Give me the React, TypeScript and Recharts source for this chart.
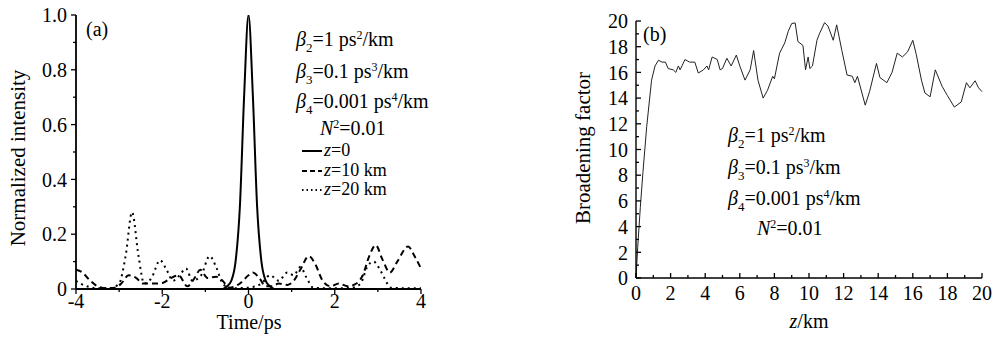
import { LineChart, Line, XAxis, YAxis } from "recharts";

// (a) normalized intensity vs time, three propagation distances
const timeZ0 = [-4, -0.6, -0.5, -0.4, -0.3, -0.2, -0.1, 0, 0.1, 0.2, 0.3, 0.4, 0.5, 0.6, 4];
const intZ0 = [0, 0, 0.01, 0.03, 0.1, 0.3, 0.71, 1, 0.71, 0.3, 0.1, 0.03, 0.01, 0, 0];

const timeZ10 = [
  -4, -3.85, -3.7, -3.5, -3.3, -3.1, -2.95, -2.78, -2.6, -2.45, -2.2, -2.0, -1.8, -1.62, -1.42,
  -1.25, -1.12, -0.95, -0.75, -0.6, -0.45, -0.2, 0, 0.1, 0.25, 0.4, 0.55, 0.7, 0.9, 1.05, 1.2,
  1.4, 1.55, 1.72, 1.9, 2.1, 2.3, 2.5, 2.65, 2.8, 2.95, 3.1, 3.28, 3.45, 3.7, 3.85, 4,
];
const intZ10 = [
  0.07, 0.06, 0.035, 0.01, 0.003, 0.005, 0.02, 0.05, 0.04, 0.02, 0.02, 0.022, 0.04, 0.05, 0.01,
  0.04, 0.07, 0.04, 0.045, 0.03, 0.005, 0.02, 0.05, 0.06, 0.04, 0.01, 0.01, 0.02, 0.015, 0.03, 0.07,
  0.12, 0.09, 0.03, 0.01, 0.02, 0.01, 0.02, 0.05, 0.12, 0.16, 0.11, 0.06, 0.1, 0.155, 0.12, 0.075,
];

const timeZ20 = [
  -4, -3.9, -3.75, -3.5, -3.2, -3.0, -2.85, -2.7, -2.55, -2.42, -2.25, -2.05, -1.9, -1.75, -1.6,
  -1.45, -1.3, -1.1, -0.9, -0.75, -0.6, -0.45, -0.3, 0, 0.3, 0.5, 0.7, 0.9, 1.05, 1.2, 1.35, 1.5,
  1.8, 2.1, 2.4, 2.6, 2.75, 2.9, 3.05, 3.15, 3.3, 3.6, 4,
];
const intZ20 = [
  0.03, 0.02, 0.01, 0.003, 0.003, 0.02, 0.12, 0.28, 0.12, 0.02, 0.04, 0.105, 0.07, 0.03, 0.05,
  0.075, 0.03, 0.05, 0.12, 0.08, 0.02, 0.005, 0.003, 0.005, 0.02, 0.05, 0.03, 0.06, 0.05, 0.08, 0.04, 0.005,
  0.003, 0.003, 0.005, 0.02, 0.08, 0.1, 0.07, 0.04, 0.005, 0.003, 0.003,
];

// (b) broadening factor vs distance
const zKm = [
  0, 0.1, 0.25, 0.4, 0.62, 0.9, 1.1, 1.3, 1.5, 1.7, 1.86, 2.15, 2.3, 2.45, 2.55, 2.83, 3.1, 3.4,
  3.6, 3.9, 4.1, 4.2, 4.4, 4.7, 4.86, 5.0, 5.25, 5.5, 5.8, 6.0, 6.3, 6.6, 6.8, 7.05, 7.35, 7.6,
  7.9, 8.0, 8.3, 8.6, 8.8, 9.0, 9.2, 9.36, 9.65, 9.8, 9.95, 10.05, 10.2, 10.46, 10.6, 10.9, 11.1,
  11.4, 11.6, 11.9, 12.2, 12.5, 12.65, 12.8, 13.25, 13.5, 13.9, 14.1, 14.5, 14.8, 15.1, 15.4, 15.7,
  16.0, 16.2, 16.5, 16.7, 17.0, 17.3, 17.7, 18.0, 18.4, 18.8, 19.1, 19.3, 19.6, 19.8, 20,
];
const broadening = [
  0, 2.4, 5.5, 8.2, 11.8, 15.4, 16.5, 16.95, 16.8, 16.8, 16.3, 16.2, 16.0, 16.5, 16.2, 17.0, 16.8, 16.8,
  15.95, 16.2, 16.5, 16.2, 17.2, 17.0, 16.2, 16.3, 17.1, 16.5, 17.35, 16.5, 15.4, 16.2, 17.7, 15.4, 14.0, 14.6,
  15.7, 15.5, 17.5, 18.3, 19.2, 19.8, 19.85, 18.4, 18.1, 16.2, 17.2, 16.3, 16.5, 18.5, 19.0, 19.87, 19.6,
  18.5, 19.7, 17.7, 15.8, 15.7, 15.2, 15.7, 13.45, 14.5, 16.7, 15.6, 15.2, 16.0, 17.5, 17.2, 17.6,
  18.5, 17.4, 15.4, 14.4, 14.1, 16.2, 14.9, 14.2, 13.3, 13.7, 15.2, 14.8, 15.35, 14.8, 14.5,
];

const leftXTicks = [-4, -3, -2, -1, 0, 1, 2, 3, 4];
const leftYTicks = [0, 0.1, 0.2, 0.3, 0.4, 0.5, 0.6, 0.7, 0.8, 0.9, 1.0];
const rightTicks = [0, 1, 2, 3, 4, 5, 6, 7, 8, 9, 10, 11, 12, 13, 14, 15, 16, 17, 18, 19, 20];

const zip = (xs: number[], ys: number[]) => xs.map((x, i) => ({ x, y: ys[i] }));

const SERIF = '"Liberation Serif", "Times New Roman", serif';

type TickProps = { x: number; y: number; payload: { value: number } };

function makeYTick(margin: number, inside: boolean, isMajor: (v: number) => boolean, fmt: (v: number) => string) {
  return (p: TickProps) => {
    const v = p.payload.value;
    const ax = p.x + margin;
    const major = isMajor(v);
    const len = major ? 5 : 3;
    const x2 = inside ? ax + len : ax - len;
    return (
      <g>
        <line x1={ax} x2={x2} y1={p.y} y2={p.y} stroke="#000" strokeWidth={1.3} />
        {major && (
          <text x={p.x} y={p.y} dy="0.36em" textAnchor="end" fontFamily={SERIF} fontSize={20} fill="#000">
            {fmt(v)}
          </text>
        )}
      </g>
    );
  };
}

function makeXTick(margin: number, inside: boolean, isMajor: (v: number) => boolean) {
  return (p: TickProps) => {
    const v = p.payload.value;
    const ay = p.y - margin;
    const major = isMajor(v);
    const len = major ? 5 : 3;
    const y2 = inside ? ay - len : ay + len;
    return (
      <g>
        <line x1={p.x} x2={p.x} y1={ay} y2={y2} stroke="#000" strokeWidth={1.3} />
        {major && (
          <text x={p.x} y={p.y} dy="0.72em" textAnchor="middle" fontFamily={SERIF} fontSize={20} fill="#000">
            {String(v)}
          </text>
        )}
      </g>
    );
  };
}

const txt: React.CSSProperties = {
  position: "absolute",
  fontFamily: SERIF,
  fontSize: 20,
  lineHeight: "20px",
  whiteSpace: "nowrap",
  color: "#000",
};
const sub: React.CSSProperties = { fontSize: 13, position: "relative", top: 6 };
const sup: React.CSSProperties = { fontSize: 12, position: "relative", top: -7 };

function Params({ left, tops, nLeft }: { left: number; tops: number[]; nLeft: number }) {
  return (
    <>
      <div style={{ ...txt, left, top: tops[0] - 10 }}>
        <i>β</i><span style={sub}>2</span>=1 ps<span style={sup}>2</span>/km
      </div>
      <div style={{ ...txt, left, top: tops[1] - 10 }}>
        <i>β</i><span style={sub}>3</span>=0.1 ps<span style={sup}>3</span>/km
      </div>
      <div style={{ ...txt, left, top: tops[2] - 10 }}>
        <i>β</i><span style={sub}>4</span>=0.001 ps<span style={sup}>4</span>/km
      </div>
      <div style={{ ...txt, left: nLeft, top: tops[3] - 10 }}>
        <i>N</i><span style={sup}>2</span>=0.01
      </div>
    </>
  );
}

function LegendRow({ top, dash, label }: { top: number; dash?: string; label: string }) {
  return (
    <div
      style={{ ...txt, fontSize: 18, lineHeight: "15px", height: 15, left: 302, top: top - 7, display: "flex", alignItems: "center" }}
    >
      <svg width={20} height={15}>
        <line x1={0} x2={20} y1={8} y2={8} stroke="#000" strokeWidth={2} strokeDasharray={dash} />
      </svg>
      <span style={{ marginLeft: 2 }}>
        <i>z</i>={label}
      </span>
    </div>
  );
}

export default function App() {
  return (
    <div style={{ position: "absolute", left: 0, top: 0, width: 993, height: 343, background: "#fff" }}>
      <div style={{ position: "absolute", left: 0, top: 0 }}>
        <LineChart width={440} height={343} margin={{ top: 15, right: 19, bottom: 24, left: 36 }}>
          <XAxis
            type="number"
            dataKey="x"
            domain={[-4, 4]}
            ticks={leftXTicks}
            interval={0}
            tickSize={0}
            tickMargin={5}
            tickLine={false}
            height={30}
            axisLine={{ stroke: "#000", strokeWidth: 1.8 }}
            tick={makeXTick(5, false, (v) => v % 2 === 0) as any}
            allowDataOverflow
          />
          <YAxis
            type="number"
            dataKey="y"
            domain={[0, 1]}
            ticks={leftYTicks}
            interval={0}
            tickSize={0}
            tickMargin={9}
            tickLine={false}
            width={40}
            axisLine={{ stroke: "#000", strokeWidth: 1.8 }}
            tick={makeYTick(9, false, (v) => Math.round(v * 10) % 2 === 0, (v) => (v === 0 ? "0" : v.toFixed(1))) as any}
            allowDataOverflow
          />
          <Line data={zip(timeZ20, intZ20)} dataKey="y" type="monotone" stroke="#000" strokeWidth={2} strokeDasharray="2 4" dot={false} isAnimationActive={false} />
          <Line data={zip(timeZ10, intZ10)} dataKey="y" type="monotone" stroke="#000" strokeWidth={2} strokeDasharray="6 4" dot={false} isAnimationActive={false} />
          <Line data={zip(timeZ0, intZ0)} dataKey="y" type="monotone" stroke="#000" strokeWidth={2} dot={false} isAnimationActive={false} />
        </LineChart>
      </div>

      <div style={{ position: "absolute", left: 540, top: 0 }}>
        <LineChart width={453} height={343} margin={{ top: 21, right: 11, bottom: 35, left: 56 }}>
          <XAxis
            type="number"
            dataKey="x"
            domain={[0, 20]}
            ticks={rightTicks}
            interval={0}
            tickSize={0}
            tickMargin={8}
            tickLine={false}
            height={30}
            axisLine={{ stroke: "#000", strokeWidth: 1.4 }}
            tick={makeXTick(8, true, (v) => v % 2 === 0) as any}
          />
          <YAxis
            type="number"
            dataKey="y"
            domain={[0, 20]}
            ticks={rightTicks}
            interval={0}
            tickSize={0}
            tickMargin={8}
            tickLine={false}
            width={40}
            axisLine={{ stroke: "#000", strokeWidth: 1.4 }}
            tick={makeYTick(8, true, (v) => v % 2 === 0, (v) => String(v)) as any}
          />
          <Line data={zip(zKm, broadening)} dataKey="y" type="linear" stroke="#222" strokeWidth={1} dot={false} isAnimationActive={false} />
        </LineChart>
      </div>

      {/* axis titles */}
      <div style={{ ...txt, left: 18, top: 158, transform: "translate(-50%, -50%) rotate(-90deg)", fontSize: 21 }}>
        Normalized intensity
      </div>
      <div style={{ ...txt, left: 249, top: 322, lineHeight: "15px", transform: "translate(-50%, -50%)" }}>Time/ps</div>
      <div style={{ ...txt, left: 583, top: 148, transform: "translate(-50%, -50%) rotate(-90deg)", fontSize: 21 }}>
        Broadening factor
      </div>
      <div style={{ ...txt, left: 809, top: 321, lineHeight: "15px", transform: "translate(-50%, -50%)" }}>
        <i>z</i>/km
      </div>

      {/* panel tags */}
      <div style={{ ...txt, left: 86, top: 19 }}>(a)</div>
      <div style={{ ...txt, left: 643, top: 24 }}>(b)</div>

      <Params left={296} tops={[39, 71, 101, 127.5]} nLeft={320} />
      <LegendRow top={150} label="0" />
      <LegendRow top={169.5} dash="5 3" label="10 km" />
      <LegendRow top={189} dash="1.5 3" label="20 km" />

      <Params left={728} tops={[135, 167, 198, 228]} nLeft={757} />
    </div>
  );
}
